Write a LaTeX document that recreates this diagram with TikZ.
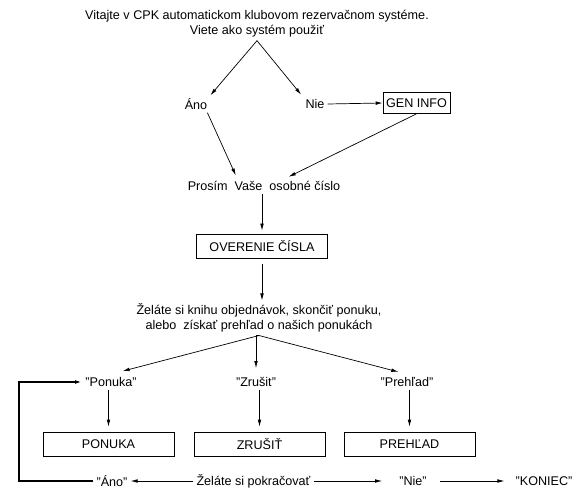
\documentclass[tikz,border=0pt]{standalone}
\usepackage{fontspec}
\setmainfont{Liberation Sans}
\usepackage{tikz}
\usetikzlibrary{arrows.meta,calc}
\newcommand{\strokewidth}{0.7pt}
\newcommand{\loopwidth}{1.8pt}
\newcommand{\boxwidth}{131pt}
\tikzset{
  every node/.style={font=\fontsize{12.6}{15}\selectfont, inner sep=3pt},
  arr/.style={-{Latex[length=7pt,width=3.6pt]}, line width=\strokewidth},
  box/.style={draw, line width=\strokewidth, minimum width=\boxwidth, minimum height=24pt},
}

\begin{document}
\begin{tikzpicture}[x=1pt,y=-1pt]
\useasboundingbox (0,0) rectangle (573,489);
%question
\node[align=center] (title) at (257,24) {Vitajte v CPK automatickom klubovom rezervačnom systéme.\\Viete ako systém použiť};
\node (ano) at (196,104) {Áno};
\node (nie) at (315,104) {Nie};
\node[draw, line width=\strokewidth, minimum width=65pt, minimum height=21pt] (gen) at (416.5,103) {GEN INFO};
\node (prosim) at (264,186) {Prosím\ \ Vaše\ \ osobné číslo};
\node[box] (overenie) at (262,246) {OVERENIE ČÍSLA};
\node[align=center] (zelate) at (259,318) {Želáte si knihu objednávok, skončiť ponuku,\\alebo\ \ získať prehľad o našich ponukách};
%choices
\node (ponukaq) at (111,382) {"Ponuka"};
\node (zrusitq) at (256,382) {"Zrušit"};
\node (prehladq) at (407,382) {"Prehľad"};
\node[box] (ponuka) at (108.5,444) {PONUKA};
\node[box] (zrusit) at (259.5,444) {ZRUŠIŤ};
\node[box] (prehlad) at (409.5,444) {PREHĽAD};
%continue
\node (pokracovat) at (253.5,481) {Želáte si pokračovať};
\node (anoq) at (112,481) {"Áno"};
\node (nieq) at (413,481) {"Nie"};
\node (koniec) at (544,481) {"KONIEC"};
%arrows
\draw[arr] (title.south) -- (ano.north east);
\draw[arr, shorten >=2pt] (title.south) -- (nie.north west);
\draw[arr] (nie.east) -- (gen.west);
\draw[arr, shorten >=3pt] ([xshift=-3pt]ano.south east) -- ([xshift=-27pt]prosim.north);
\draw[arr, shorten >=3pt] (gen.south) -- ([xshift=22pt]prosim.north);
\draw[arr, shorten >=3pt] (prosim.south -| overenie.north) -- (overenie.north);
\draw[arr, shorten <=6pt] (overenie.south) -- (overenie.south |- zelate.north);
\draw[arr, shorten >=12pt] (zelate.south) -- (ponukaq.north);
\draw[arr, shorten >=6pt] (zelate.south) -- (zelate.south -| zrusitq.north) -- (zrusitq.north);
\draw[arr, shorten >=9pt] (zelate.south) -- (prehladq.north);
\draw[arr, shorten >=5pt] (ponukaq.south -| ponuka.north) -- (ponuka.north);
\draw[arr, shorten >=5pt] (zrusitq.south -| zrusit.north) -- (zrusit.north);
\draw[arr, shorten >=5pt] (prehladq.south -| prehlad.north) -- (prehlad.north);
\draw[arr] (pokracovat.west) -- (anoq.east);
\draw[arr, shorten >=14pt] (pokracovat.east) -- (nieq.west);
\draw[arr, shorten <=10pt, shorten >=8pt] (nieq.east) -- (koniec.west);
\draw[arr, line width=\loopwidth] (anoq.west) -- ++(-74,0) |- (ponukaq.west);
\end{tikzpicture}
\end{document}
